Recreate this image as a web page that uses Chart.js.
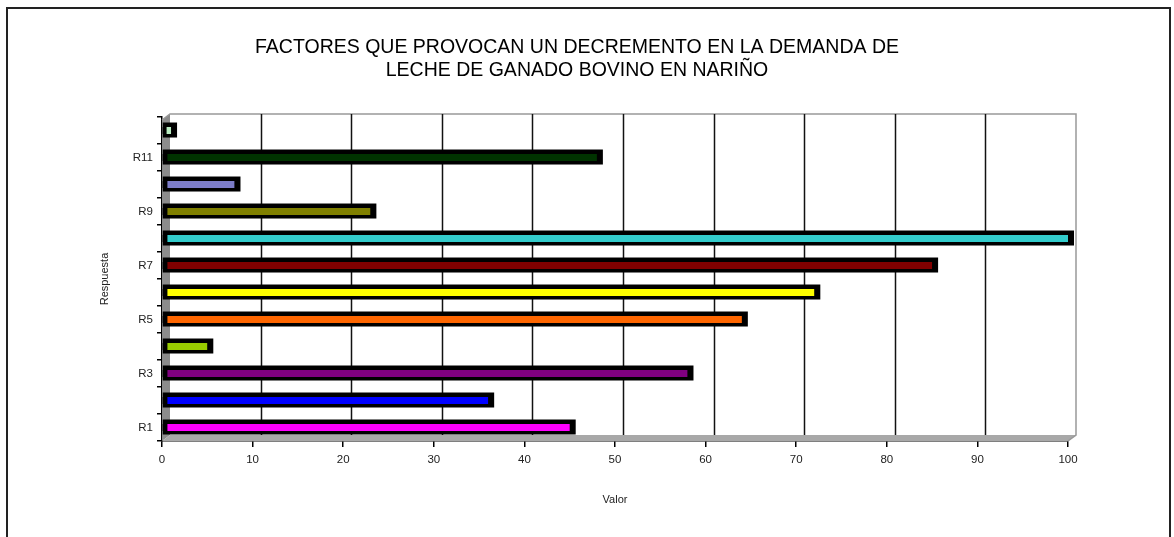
<!DOCTYPE html>
<html>
<head>
<meta charset="utf-8">
<script src="https://cdn.jsdelivr.net/npm/chart.js@4/dist/chart.umd.min.js"></script>
<style>
  html, body { margin: 0; padding: 0; background: #fff; }
  #marco { position: absolute; left: 6px; top: 7px; width: 1165px; height: 560px; border: 2px solid #222; box-sizing: border-box; }
  #contenedor { position: absolute; left: 0; top: 0; width: 1174px; height: 537px; }
</style>
</head>
<body>
<div id="marco"></div>
<div id="contenedor"><canvas id="grafico" width="1174" height="537"></canvas></div>
<script>
const respuestas = ["R1", "R2", "R3", "R4", "R5", "R6", "R7", "R8", "R9", "R10", "R11", "R12"];
const valores = [45, 36, 58, 5, 64, 72, 85, 100, 23, 8, 48, 1];
const colores = ["#ff00ff", "#0000ff", "#800080", "#99cc00", "#ff6600", "#ffff00",
                 "#800000", "#33cccc", "#808000", "#7c7cc8", "#003300", "#b8ecc0"];
const valorTicks = [0, 10, 20, 30, 40, 50, 60, 70, 80, 90, 100];
const titulo = ["FACTORES QUE PROVOCAN UN DECREMENTO EN LA DEMANDA DE",
                "LECHE DE GANADO BOVINO EN NARIÑO"];

const FUENTE = "'Liberation Sans', Arial, sans-serif";
const PROF = 8; // profundidad del efecto 3D

// paredes, cuadrícula del fondo y caja negra de cada barra
const efecto3d = {
  id: "efecto3d",
  beforeDatasetsDraw(chart) {
    const { ctx, chartArea: a, scales: { x } } = chart;
    ctx.save();
    // pared izquierda
    ctx.fillStyle = "#8c8c8c";
    ctx.beginPath();
    ctx.moveTo(a.left, a.bottom);
    ctx.lineTo(a.left, a.top + 3);
    ctx.lineTo(a.left + PROF, a.top - 3);
    ctx.lineTo(a.left + PROF, a.bottom - 6);
    ctx.closePath();
    ctx.fill();
    // piso
    ctx.fillStyle = "#a8a8a8";
    ctx.beginPath();
    ctx.moveTo(a.left, a.bottom);
    ctx.lineTo(a.right, a.bottom);
    ctx.lineTo(a.right + PROF, a.bottom - 6);
    ctx.lineTo(a.left + PROF, a.bottom - 6);
    ctx.closePath();
    ctx.fill();
    // borde de la pared del fondo
    ctx.strokeStyle = "#999";
    ctx.lineWidth = 1.5;
    ctx.beginPath();
    ctx.moveTo(a.left, a.top + 3);
    ctx.lineTo(a.left + PROF, a.top - 3);
    ctx.lineTo(a.right + PROF, a.top - 3);
    ctx.lineTo(a.right + PROF, a.bottom - 6);
    ctx.lineTo(a.right, a.bottom);
    ctx.stroke();
    // líneas de cuadrícula sobre la pared del fondo
    ctx.strokeStyle = "#111";
    ctx.lineWidth = 1.5;
    valorTicks.slice(1, -1).forEach(v => {
      const px = Math.round(x.getPixelForValue(v)) + PROF + 0.5;
      ctx.beginPath();
      ctx.moveTo(px, a.top - 3);
      ctx.lineTo(px, a.bottom - 6);
      ctx.stroke();
    });
    // caja negra alrededor de cada barra
    ctx.fillStyle = "#000";
    chart.getDatasetMeta(0).data.forEach(bar => {
      const { x: fin, y: yc, base } = bar.getProps(["x", "y", "base"], true);
      ctx.fillRect(base, yc - 8, fin - base + 6, 15);
    });
    ctx.restore();
  }
};

new Chart(document.getElementById("grafico"), {
  type: "bar",
  data: {
    labels: respuestas,
    datasets: [{
      data: valores,
      backgroundColor: colores,
      borderColor: "#000",
      borderWidth: { left: 5, right: 0, top: 0, bottom: 0 },
      borderSkipped: false,
      barThickness: 7
    }]
  },
  options: {
    indexAxis: "y",
    responsive: false,
    animation: false,
    layout: { padding: { left: 86, right: 106, top: 0, bottom: 30 } },
    plugins: {
      legend: { display: false },
      tooltip: { enabled: false },
      title: {
        display: true,
        text: titulo,
        color: "#000",
        font: { family: FUENTE, size: 19.5, weight: "normal", lineHeight: 1.18 },
        padding: { top: 36, bottom: 35 }
      }
    },
    scales: {
      x: {
        min: 0,
        max: 100,
        afterBuildTicks(scale) { scale.ticks = valorTicks.map(v => ({ value: v })); },
        grid: { drawOnChartArea: false, drawTicks: true, tickLength: 6, color: "#000", lineWidth: 1.5 },
        border: { display: true, color: "#000", width: 1.5 },
        ticks: { color: "#222", padding: 6, font: { family: FUENTE, size: 11.5 }, maxRotation: 0 },
        title: { display: true, text: "Valor", color: "#222", font: { family: FUENTE, size: 11 }, padding: { top: 21, bottom: 0 } }
      },
      y: {
        reverse: true,
        afterFit(scale) { scale.width = 76; },
        grid: { offset: true, drawOnChartArea: false, drawTicks: true, tickLength: 5, color: "#000", lineWidth: 1.5 },
        border: { display: true, color: "#000", width: 1.5 },
        ticks: {
          color: "#222",
          padding: 4,
          autoSkip: false,
          font: { family: FUENTE, size: 11.5 },
          callback(val, i) { return i % 2 === 0 ? this.getLabelForValue(val) : ""; }
        },
        title: { display: true, text: "Respuesta", color: "#222", font: { family: FUENTE, size: 11 }, padding: { top: 12, bottom: 0 } }
      }
    }
  },
  plugins: [efecto3d]
});
</script>
</body>
</html>
